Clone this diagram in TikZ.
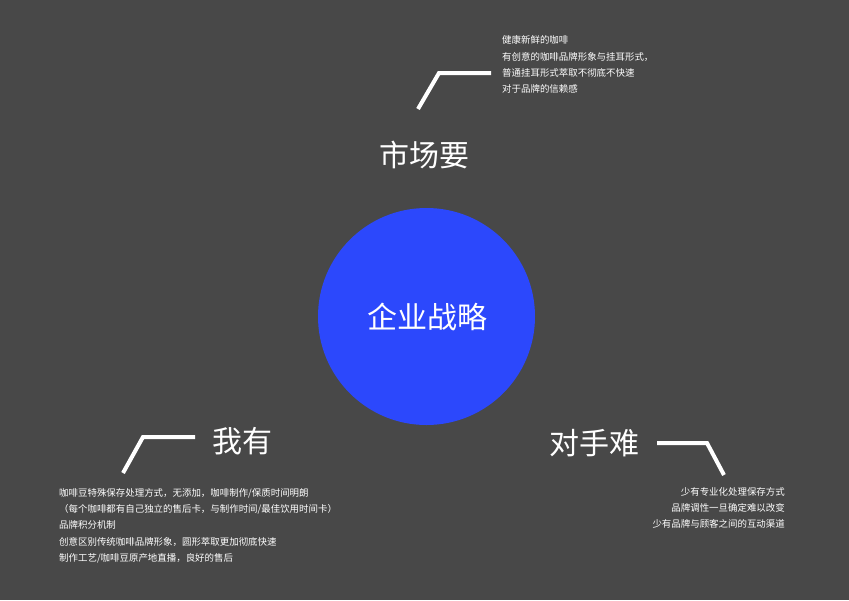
\documentclass[tikz,border=0pt]{standalone}
\usepackage{fontspec}
\setmainfont{Noto Sans CJK SC}
\usetikzlibrary{positioning}
\definecolor{bggray}{RGB}{72,72,72}
\definecolor{stratblue}{RGB}{44,72,252}
\tikzset{
    % Headings
    heading/.style={
        text=white,
        inner sep=0pt,
        font=\fontsize{30}{30}\selectfont
    },
    % Notes
    note/.style={
        text=white,
        inner sep=0pt,
        font=\fontsize{9.45}{16.3}\selectfont
    },
    % Brackets
    bracket/.style={
        draw=white,
        line width=4pt
    }
}
\begin{document}
\begin{tikzpicture}[x=1pt, y=-1pt]

    % Background
    \fill[bggray] (0,0) rectangle (849,600);

    % Centre
    \node[circle, fill=stratblue, minimum size=217pt, inner sep=0pt] (core) at (426.5,316.5) {};
    \node[heading] (strategy) at (427,317) {企业战略};

    % Market
    \node[heading] (market) at (424,155) {市场要};
    \draw[bracket] (418,109) -- (439,73) -- (491,73);
    \node[note, anchor=north west, align=left] (marketnote) at (502,35.5) {健康新鲜的咖啡\\有创意的咖啡品牌形象与挂耳形式，\\普通挂耳形式萃取不彻底不快速\\对于品牌的信赖感};

    % Ours
    \node[heading] (ours) at (242,441) {我有};
    \draw[bracket] (123,473) -- (143,437) -- (195,437);
    \node[note, anchor=north west, align=left] (oursnote) at (59,488) {咖啡豆特殊保存处理方式，无添加，咖啡制作/保质时间明朗\\（每个咖啡都有自己独立的售后卡，与制作时间/最佳饮用时间卡）\\品牌积分机制\\创意区别传统咖啡品牌形象，圆形萃取更加彻底快速\\制作工艺/咖啡豆原产地直播，良好的售后};

    % Rivals
    \node[heading] (rivals) at (594,443) {对手难};
    \draw[bracket] (657,443) -- (707,443) -- (724,475);
    \node[note, anchor=north east, align=right, font=\fontsize{9.45}{15.8}\selectfont] (rivalsnote) at (785,487.5) {少有专业化处理保存方式\\品牌调性一旦确定难以改变\\少有品牌与顾客之间的互动渠道};

\end{tikzpicture}
\end{document}
